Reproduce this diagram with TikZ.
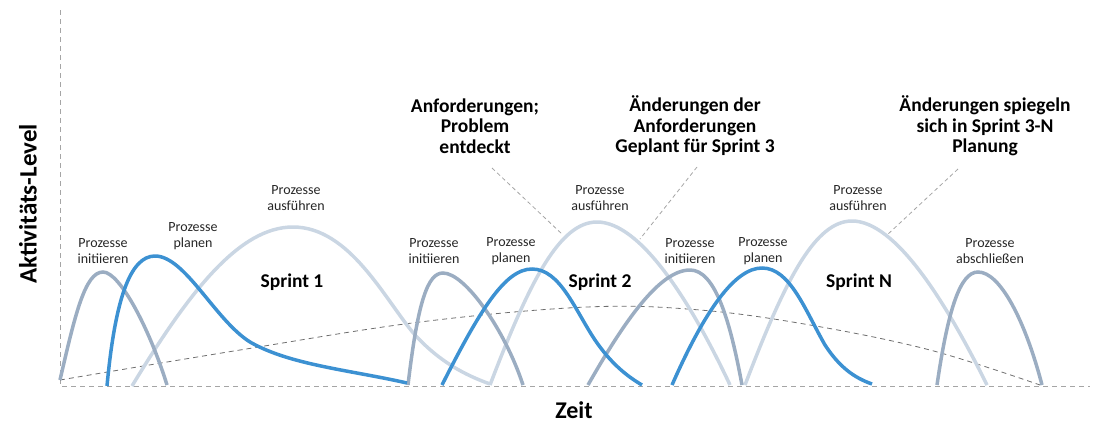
\documentclass[tikz,border=0pt]{standalone}
\usepackage{fontspec}
\setmainfont{Carlito}
\definecolor{initc}{RGB}{155,173,194}
\definecolor{planc}{RGB}{60,145,210}
\definecolor{execc}{RGB}{202,214,227}
\definecolor{axisc}{RGB}{165,165,165}
\definecolor{trendc}{RGB}{110,110,110}

\begin{document}
\begin{tikzpicture}[x=1pt, y=-1pt,
initcurve/.style={draw=initc, line width=3.5pt},
plancurve/.style={draw=planc, line width=3.5pt},
execcurve/.style={draw=execc, line width=3.5pt},
axisline/.style={draw=axisc, line width=1pt, dash pattern=on 5pt off 4pt},
trendline/.style={draw=trendc, line width=0.8pt, dash pattern=on 5pt off 4pt},
leader/.style={draw=axisc, line width=0.8pt, dash pattern=on 4pt off 3pt},
proc/.style={font=\fontsize{14}{16}\selectfont, align=center, inner sep=0pt, text=black!85},
head/.style={font=\bfseries\fontsize{19.5}{20.5}\selectfont, align=center, inner sep=0pt}]
\useasboundingbox (0,0) rectangle (1110,429);
% axes
\coordinate (origin) at (60,386);
\coordinate (ytop) at (60,10);
\coordinate (xend) at (1090,386);
\draw[axisline] (ytop) -- (origin) -- (xend);
\node[font=\bfseries\fontsize{25}{25}\selectfont, rotate=90, inner sep=0pt] (ylabel) at (28,204) {Aktivitäts-Level};
\node[font=\bfseries\fontsize{24}{24}\selectfont, inner sep=0pt] (xlabel) at (574,410) {Zeit};
% overall trend
\draw[trendline] plot[smooth, tension=0.6] coordinates {(60,380) (240,350) (420,322) (587,307) (700,310) (810,325) (930,350) (1040,385)};
% execute
\draw[execcurve] (132,386) .. controls (190,290) and (240,227) .. (293,227)
  .. controls (350,227) and (385,300) .. (415,335) .. controls (440,362) and (465,375) .. (490,384);
\draw[execcurve] (490,385) .. controls (530,280) and (560,222) .. (597,222)
  .. controls (640,222) and (690,300) .. (730,385);
\draw[execcurve] (745,385) .. controls (785,280) and (815,221) .. (852,221)
  .. controls (895,221) and (945,300) .. (987,385);
% initiate / close
\draw[initcurve] (60,380) .. controls (75,315) and (85,272) .. (103,272)
  .. controls (120,272) and (150,330) .. (167,385);
\draw[initcurve] (408,385) .. controls (418,300) and (428,273) .. (443,273)
  .. controls (465,273) and (505,330) .. (523,385);
\draw[initcurve] (588,385) .. controls (625,320) and (660,270) .. (690,270)
  .. controls (715,270) and (730,320) .. (742,385);
\draw[initcurve] (937,385) .. controls (948,310) and (960,272) .. (978,272)
  .. controls (1000,272) and (1025,320) .. (1042,385);
% plan
\draw[plancurve] (107,386) .. controls (115,300) and (130,256) .. (155,256)
  .. controls (185,256) and (215,320) .. (250,342) .. controls (290,365) and (350,370) .. (407,383);
\draw[plancurve] (442,385) .. controls (480,310) and (505,269) .. (532,269)
  .. controls (560,269) and (575,310) .. (595,340) .. controls (610,362) and (625,375) .. (642,385);
\draw[plancurve] (672,385) .. controls (705,310) and (735,268) .. (762,268)
  .. controls (790,268) and (805,310) .. (825,345) .. controls (840,368) and (855,378) .. (872,384);
% process labels
\node[proc] (init1) at (103,251) {Prozesse\\initiieren};
\node[proc] (plan1) at (193,236) {Prozesse\\planen};
\node[proc] (exec1) at (296,198) {Prozesse\\ausführen};
\node[proc] (init2) at (434,251) {Prozesse\\initiieren};
\node[proc] (plan2) at (511,251) {Prozesse\\planen};
\node[proc] (exec2) at (600,198) {Prozesse\\ausführen};
\node[proc] (init3) at (690,251) {Prozesse\\initiieren};
\node[proc] (plan3) at (763,251) {Prozesse\\planen};
\node[proc] (exec3) at (858,198) {Prozesse\\ausführen};
\node[proc] (close) at (990,251) {Prozesse\\abschließen};
% sprints
\node[head] (sprint1) at (292,282) {Sprint 1};
\node[head] (sprint2) at (600,282) {Sprint 2};
\node[head] (sprintN) at (859,282) {Sprint N};
% events
\node[head] (found) at (475,126) {Anforderungen;\\Problem\\entdeckt};
\node[head] (change) at (695,126) {Änderungen der\\Anforderungen\\Geplant für Sprint 3};
\node[head] (reflect) at (985,126) {Änderungen spiegeln\\sich in Sprint 3-N\\Planung};
\coordinate (found-a) at (492,168);
\coordinate (found-b) at (563,235);
\coordinate (change-a) at (697,167);
\coordinate (change-b) at (640,239);
\coordinate (reflect-a) at (958,169);
\coordinate (reflect-b) at (887,235);
\draw[leader] (found-a) -- (found-b);
\draw[leader] (change-a) -- (change-b);
\draw[leader] (reflect-a) -- (reflect-b);
\end{tikzpicture}
\end{document}
